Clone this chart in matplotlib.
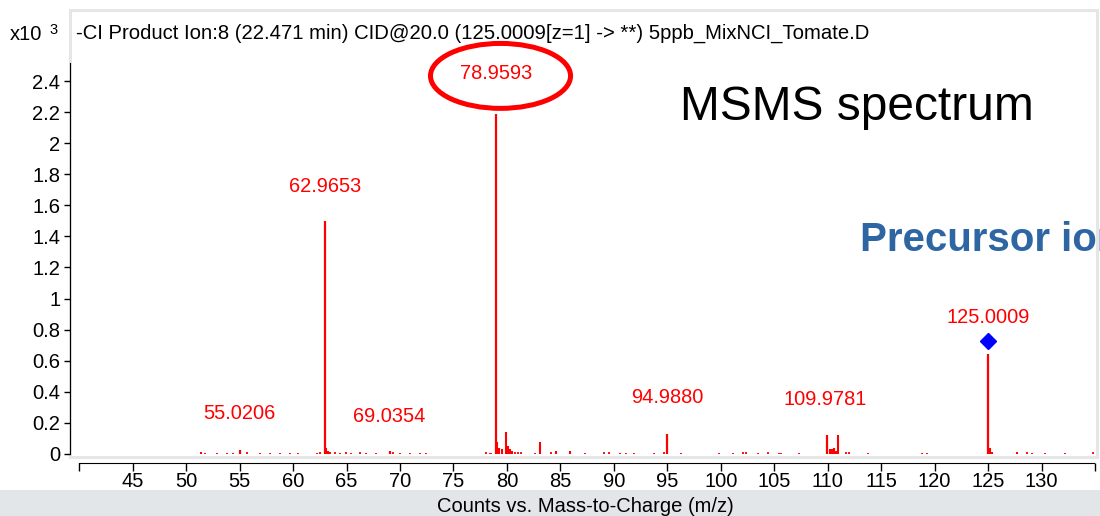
import numpy as np
import matplotlib.pyplot as plt
from matplotlib.patches import Ellipse, Rectangle

plt.rcParams['font.family'] = ['Liberation Sans', 'DejaVu Sans']

# labelled peaks (m/z, counts x10^3)
peak_mz = [55.0206, 62.9653, 69.0354, 78.9593, 94.9880, 109.9781, 125.0009]
peak_int = [0.023, 1.50, 0.017, 2.19, 0.125, 0.12, 0.643]
peak_labels = ['55.0206', '62.9653', '69.0354', '78.9593', '94.9880', '109.9781', '125.0009']
label_xy = [(55.0, 0.26), (63.0, 1.72), (69.0, 0.24), (79.0, 2.45), (95.0, 0.365), (109.8, 0.35), (125.0, 0.88)]

# smaller fragment peaks
minor_mz = [51.4, 63.1, 63.25, 63.4, 79.1, 79.3, 79.5, 79.88, 80.1, 80.3, 80.5,
            83.05, 84.6, 85.86, 110.2, 110.4, 110.6, 110.8, 110.99, 125.2, 125.4, 127.7]
minor_int = [0.013, 0.035, 0.02, 0.01, 0.075, 0.04, 0.03, 0.14, 0.05, 0.03, 0.02,
             0.075, 0.02, 0.02, 0.03, 0.03, 0.04, 0.02, 0.12, 0.04, 0.012, 0.015]

# baseline noise
noise_mz = [51.75, 52.85, 53.78, 54.4, 55.65, 56.9, 57.83, 58.76, 59.7, 60.47, 62.19,
            62.5, 63.43, 63.9, 64.37, 64.99, 65.46, 66.24, 66.86, 67.8, 69.35, 69.97,
            70.9, 71.84, 72.47, 78.0, 78.38, 78.54, 80.72, 81.03, 81.34, 82.59, 84.15,
            87.26, 89.1, 89.53, 90.53, 91.15, 91.93, 93.8, 94.73, 96.29, 99.87, 101.12,
            102.06, 102.37, 103.45, 104.4, 105.48, 105.64, 107.35, 111.7, 112.02, 113.73,
            118.78, 119.28, 128.67, 129.14, 130.33, 132.2, 134.8]
noise_int = [0.008, 0.006, 0.006, 0.008, 0.01, 0.006, 0.006, 0.008, 0.006, 0.008, 0.006,
             0.01, 0.012, 0.01, 0.008, 0.01, 0.008, 0.01, 0.006, 0.008, 0.01, 0.008,
             0.006, 0.006, 0.006, 0.01, 0.008, 0.008, 0.012, 0.01, 0.01, 0.008, 0.012,
             0.008, 0.01, 0.01, 0.008, 0.008, 0.008, 0.008, 0.01, 0.008, 0.008, 0.008,
             0.01, 0.01, 0.008, 0.01, 0.008, 0.008, 0.008, 0.01, 0.01, 0.008,
             0.008, 0.008, 0.01, 0.008, 0.008, 0.006, 0.01]

precursor_mz = 125.0009
precursor_y = 0.727

xticks = list(range(40, 136, 5))
xticklabels = ['' if t in (40, 135) else str(t) for t in xticks]
yticks = [0, 0.2, 0.4, 0.6, 0.8, 1, 1.2, 1.4, 1.6, 1.8, 2, 2.2, 2.4]
yticklabels = ['0', '0.2', '0.4', '0.6', '0.8', '1', '1.2', '1.4', '1.6', '1.8', '2', '2.2', '2.4']

W, H = 1100, 516
fig = plt.figure(figsize=(W / 100, H / 100), dpi=100)
fig.patch.set_facecolor('white')

# grey bar along the bottom with the axis title
fig.patches.append(Rectangle((0, 0), 1, 26 / H, transform=fig.transFigure,
                             facecolor='#e3e6e8', edgecolor='none', zorder=-2))
fig.text(585 / W, 1 - 506 / H, 'Counts vs. Mass-to-Charge (m/z)', fontsize=14.5,
         ha='center', va='center')

# light frame of the spectrum panel
fig.patches.append(Rectangle((70 / W, 1 - 457 / H), 1027 / W, 447 / H,
                             transform=fig.transFigure, facecolor='white',
                             edgecolor='#e6e6e6', linewidth=2.2, zorder=-2))

ax = fig.add_axes([77 / W, 1 - 457 / H, 1018 / W, 394 / H])
ax.set_facecolor('none')
ax.set_zorder(2)

ax.vlines(noise_mz, 0, noise_int, color='red', linewidth=1.3)
ax.vlines(minor_mz, 0, minor_int, color='red', linewidth=1.5)
ax.vlines(peak_mz, 0, peak_int, color='red', linewidth=1.6)
ax.plot([precursor_mz], [precursor_y], marker='D', color='blue', markersize=8,
        linestyle='none', clip_on=False)

for (lx, ly), txt in zip(label_xy, peak_labels):
    ax.text(lx, ly, txt, color='red', fontsize=14.4, ha='center', va='center')

# circle round the base peak
ax.add_patch(Ellipse((79.4, 2.433), 13.1, 0.418, fill=False, edgecolor='red',
                     linewidth=3.6, clip_on=False))

ax.set_xlim(39.79, 134.9)
ax.set_ylim(-0.02, 2.516)
ax.set_xticks(xticks)
ax.set_xticklabels(xticklabels)
ax.set_yticks(yticks)
ax.set_yticklabels(yticklabels)
ax.tick_params(axis='both', labelsize=14.5, color='black', width=1)
ax.tick_params(axis='x', length=6, pad=0.5)
ax.tick_params(axis='y', length=4, pad=3)

for s in ['top', 'right']:
    ax.spines[s].set_visible(False)
ax.spines['left'].set_position(('outward', 5))
ax.spines['left'].set_bounds(0, 2.516)
ax.spines['bottom'].set_position(('outward', 4.5))
ax.spines['bottom'].set_bounds(40, 134.9)

fig.text(10 / W, 1 - 35 / H, 'x10', fontsize=14.5, ha='left', va='center')
fig.text(49 / W, 1 - 30 / H, '3', fontsize=10.5, ha='left', va='center')
fig.text(76 / W, 1 - 33 / H,
         '-CI Product Ion:8 (22.471 min) CID@20.0 (125.0009[z=1] -> **) 5ppb_MixNCI_Tomate.D',
         fontsize=14.6, ha='left', va='center')

fig.text(680 / W, 1 - 108 / H, 'MSMS spectrum', fontsize=34.5, ha='left', va='center')
fig.text(860 / W, 1 - 240 / H, 'Precursor ion', fontsize=29, fontweight='bold',
         color='#2e66a4', ha='left', va='center')

fig.savefig('out.png', dpi=100)
